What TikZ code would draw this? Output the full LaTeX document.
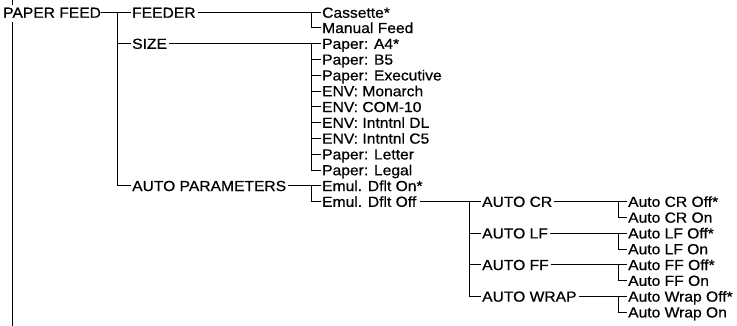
\documentclass[tikz,border=0pt]{standalone}
\usepackage{fontspec}
\setmainfont[FakeStretch=1.07,FakeBold=0.6]{Liberation Sans}
\begin{document}
\begin{tikzpicture}[x=1pt,y=-1pt]
\tikzset{
  lbl/.style={anchor=west, inner sep=0pt, text height=10.5pt, text depth=0pt, font=\fontsize{14.6}{16}\selectfont},
  conn/.style={line width=0.8pt, black},
  tick/.style={conn, shorten >=1.5pt}
}
\useasboundingbox (0,0) rectangle (737,326);
% junction columns
\coordinate (ja) at (117,0);
\coordinate (jb) at (311,0);
\coordinate (jc) at (469,0);
\coordinate (jd) at (618,0);
\coordinate (ctop) at (12,0);
\coordinate (cbot) at (12,326);
% level 0 and 1
\node[lbl] (pf) at (3,12.5) {PAPER FEED};
\node[lbl] (feeder) at (132,12.5) {FEEDER};
\node[lbl] (size) at (132,43.6) {SIZE};
\node[lbl] (autop) at (132,185.8) {AUTO PARAMETERS};
% level 2
\node[lbl] (cas) at (322,12.5) {Cassette*};
\node[lbl] (man) at (322,27.8) {Manual Feed};
\node[lbl] (a4) at (322,43.6) {Paper: A4*};
\node[lbl] (b5) at (322,59.4) {Paper: B5};
\node[lbl] (exe) at (322,75.2) {Paper: Executive};
\node[lbl] (mon) at (322,91) {ENV: Monarch};
\node[lbl] (com) at (322,106.8) {ENV: COM-10};
\node[lbl] (dl) at (322,122.6) {ENV: Intntnl DL};
\node[lbl] (c5) at (322,138.4) {ENV: Intntnl C5};
\node[lbl] (let) at (322,154.2) {Paper: Letter};
\node[lbl] (leg) at (322,170) {Paper: Legal};
\node[lbl] (emon) at (322,185.8) {Emul. Dflt On*};
\node[lbl] (emoff) at (322,201.6) {Emul. Dflt Off};
% level 3
\node[lbl] (acr) at (482,201.6) {AUTO CR};
\node[lbl] (alf) at (482,233.2) {AUTO LF};
\node[lbl] (aff) at (482,264.8) {AUTO FF};
\node[lbl] (awr) at (482,296.4) {AUTO WRAP};
% level 4
\node[lbl] (croff) at (628,201.6) {Auto CR Off*};
\node[lbl] (cron) at (628,217.4) {Auto CR On};
\node[lbl] (lfoff) at (628,233.2) {Auto LF Off*};
\node[lbl] (lfon) at (628,249) {Auto LF On};
\node[lbl] (ffoff) at (628,264.8) {Auto FF Off*};
\node[lbl] (ffon) at (628,280.6) {Auto FF On};
\node[lbl] (wroff) at (628,296.4) {Auto Wrap Off*};
\node[lbl] (wron) at (628,312.2) {Auto Wrap On};
% continuation line at left
\draw[conn] (ctop) -- ([yshift=2pt]pf.north -| ctop);
\draw[conn] ([yshift=-4pt]pf.south -| ctop) -- (cbot);
% PAPER FEED -> level 1
\draw[tick] (pf.east) -- (feeder.west);
\draw[conn] (feeder.west -| ja) -- (autop.west -| ja);
\foreach \c in {size,autop} \draw[tick] (\c.west -| ja) -- (\c.west);
% FEEDER
\draw[tick,shorten <=2pt] (feeder.east) -- (cas.west);
\draw[conn] (cas.west -| jb) -- (man.west -| jb);
\draw[tick] (man.west -| jb) -- (man.west);
% SIZE
\draw[tick,shorten <=2pt] (size.east) -- (a4.west);
\draw[conn] (a4.west -| jb) -- (leg.west -| jb);
\foreach \c in {b5,exe,mon,com,dl,c5,let,leg} \draw[tick] (\c.west -| jb) -- (\c.west);
% AUTO PARAMETERS
\draw[tick,shorten <=2pt] (autop.east) -- (emon.west);
\draw[conn] (emon.west -| jb) -- (emoff.west -| jb);
\draw[tick] (emoff.west -| jb) -- (emoff.west);
% Emul. Dflt Off
\draw[tick,shorten <=4pt] (emoff.east) -- (acr.west);
\draw[conn] (acr.west -| jc) -- (awr.west -| jc);
\foreach \c in {alf,aff,awr} \draw[tick] (\c.west -| jc) -- (\c.west);
% AUTO CR
\draw[tick,shorten <=2pt] (acr.east) -- (croff.west);
\draw[conn] (croff.west -| jd) -- (cron.west -| jd);
\draw[tick] (cron.west -| jd) -- (cron.west);
% AUTO LF
\draw[tick,shorten <=2pt] (alf.east) -- (lfoff.west);
\draw[conn] (lfoff.west -| jd) -- (lfon.west -| jd);
\draw[tick] (lfon.west -| jd) -- (lfon.west);
% AUTO FF
\draw[tick,shorten <=2pt] (aff.east) -- (ffoff.west);
\draw[conn] (ffoff.west -| jd) -- (ffon.west -| jd);
\draw[tick] (ffon.west -| jd) -- (ffon.west);
% AUTO WRAP
\draw[tick,shorten <=2pt] (awr.east) -- (wroff.west);
\draw[conn] (wroff.west -| jd) -- (wron.west -| jd);
\draw[tick] (wron.west -| jd) -- (wron.west);
\end{tikzpicture}
\end{document}
